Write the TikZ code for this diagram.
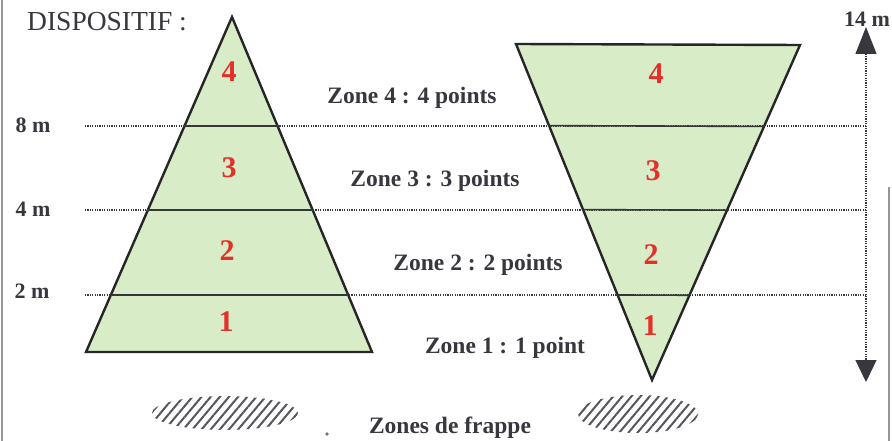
\documentclass[tikz,border=0pt]{standalone}
\usepackage{fontspec}
\setmainfont{Liberation Serif}
\usetikzlibrary{calc,arrows.meta,patterns.meta}
\definecolor{ZoneGreen}{RGB}{216,236,200}
\definecolor{ZoneRed}{RGB}{228,48,40}
\definecolor{InkGray}{RGB}{55,55,62}
\definecolor{FrameGray}{RGB}{150,150,150}
\tikzset{
  zonetri/.style={draw=black!85,fill=ZoneGreen,line width=2.4pt,line join=miter},
  divider/.style={draw=black!80,line width=1.6pt},
  level/.style={draw=InkGray,dash pattern=on 1.2pt off 1.2pt,line width=1.3pt},
  num/.style={text=ZoneRed,font=\fontsize{30}{30}\selectfont\bfseries,inner sep=0pt},
  zonelbl/.style={text=InkGray,font=\fontsize{23.5}{23.5}\selectfont\bfseries,inner sep=0pt},
  hgt/.style={text=InkGray,font=\fontsize{22}{22}\selectfont\bfseries,inner sep=0pt},
  hatch/.style={pattern={Lines[angle=50,distance=7pt,line width=2pt]},pattern color=InkGray!85},
}
\begin{document}
\begin{tikzpicture}[x=1pt,y=-1pt]
\useasboundingbox (0,0) rectangle (892,441);
% frame
\draw[FrameGray,line width=1.2pt] (2,0)--(2,441);
\draw[FrameGray,line width=1.2pt] (889,187)--(889,441);
% triangles
\coordinate (Ltop) at (232,17); \coordinate (Lbl) at (86,352); \coordinate (Lbr) at (372,352);
\coordinate (Rtl) at (516,44); \coordinate (Rtr) at (800,45); \coordinate (Rbot) at (652,380);
\filldraw[zonetri] (Ltop)--(Lbr)--(Lbl)--cycle;
\filldraw[zonetri] (Rtl)--(Rtr)--(Rbot)--cycle;
\foreach \t in {0.325,0.576,0.830}
  \draw[divider] ($(Ltop)!\t!(Lbl)$)--($(Ltop)!\t!(Lbr)$);
\foreach \t in {0.757,0.507,0.253}
  \draw[divider] ($(Rbot)!\t!(Rtl)$)--($(Rbot)!\t!(Rtr)$);
% levels
\foreach \i/\y in {1/126,2/210,3/295} {
  \coordinate (lvA\i) at (85,\y); \coordinate (lvB\i) at (866,\y);
  \draw[level] (lvA\i)--(lvB\i);}
\coordinate (atop) at (866,27); \coordinate (abot) at (866,382);
\draw[level,{Triangle[width=21pt,length=27pt]}-{Triangle[width=21pt,length=22pt]}] (atop)--(abot);
% labels
\node[anchor=west,text=InkGray,font=\fontsize{27.5}{27.5}\selectfont,inner sep=0pt] (title) at (27,22) {DISPOSITIF :};
\node[hgt] (h14) at (867,19) {14 m};
\node[hgt] (h8) at (33,125) {8 m};
\node[hgt] (h4) at (33,209) {4 m};
\node[hgt] (h2) at (32,291) {2 m};
\foreach \n/\x/\y in {4/229/72,3/229/168,2/227/251,1/226/322}
  \node[num] (L\n) at (\x,\y) {\n};
\foreach \n/\x/\y in {4/656/74,3/653/171,2/651/255,1/650/326}
  \node[num] (R\n) at (\x,\y) {\n};
\node[zonelbl] (z4) at (412,98) {Zone 4 : 4 points};
\node[zonelbl] (z3) at (435,181) {Zone 3 : 3 points};
\node[zonelbl] (z2) at (478,265) {Zone 2 : 2 points};
\node[zonelbl] (z1) at (505,348) {Zone 1 : 1 point};
% hitting zones
\fill[hatch] (225,413) ellipse [x radius=73, y radius=17];
\fill[hatch] (638,414) ellipse [x radius=60, y radius=19];
\fill[InkGray!70] (327,434) circle (1.8pt);
\node[zonelbl] (hit) at (450,428) {Zones de frappe};
\end{tikzpicture}
\end{document}
